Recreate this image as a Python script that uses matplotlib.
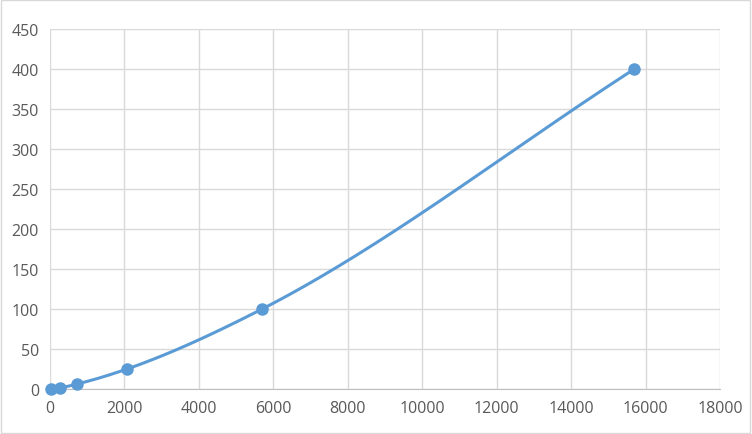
import numpy as np
import matplotlib
matplotlib.use("Agg")
import matplotlib.pyplot as plt

conc = [15700, 5700, 2070, 730, 270, 40]
signal = [400, 100, 25, 6.25, 1.56, 0.39]

xticks = list(range(0, 18001, 2000))
yticks = list(range(0, 451, 50))


def pchip(xs, ys, n=60):
    # monotone cubic so the smoothed line does not dip below the points
    h = np.diff(xs)
    d = np.diff(ys) / h
    m = np.zeros(len(xs))
    for k in range(1, len(xs) - 1):
        if d[k - 1] * d[k] > 0:
            w1 = 2 * h[k] + h[k - 1]
            w2 = h[k] + 2 * h[k - 1]
            m[k] = (w1 + w2) / (w1 / d[k - 1] + w2 / d[k])
    m[0] = d[0]
    m[-1] = d[-1]
    outx, outy = [], []
    for k in range(len(xs) - 1):
        t = np.linspace(0, 1, n)
        h00 = 2 * t ** 3 - 3 * t ** 2 + 1
        h10 = t ** 3 - 2 * t ** 2 + t
        h01 = -2 * t ** 3 + 3 * t ** 2
        h11 = t ** 3 - t ** 2
        outx.extend(xs[k] + t * h[k])
        outy.extend(h00 * ys[k] + h10 * h[k] * m[k] + h01 * ys[k + 1] + h11 * h[k] * m[k + 1])
    return outx, outy


order = np.argsort(conc)
xs = np.array(conc, float)[order]
ys = np.array(signal, float)[order]
sx, sy = pchip(xs, ys)

fig = plt.figure(figsize=(7.52, 4.35), dpi=100)
ax = fig.add_axes([50 / 752, 45 / 435, 670 / 752, 360 / 435])

ax.plot(sx, sy, color="#5B9BD5", lw=2.2, zorder=3, solid_capstyle="round", clip_on=False)
ax.plot(xs, ys, "o", color="#5B9BD5", ms=8, zorder=4, clip_on=False)

ax.set_xlim(0, 18000)
ax.set_ylim(0, 450)
ax.set_xticks(xticks)
ax.set_yticks(yticks)
ax.grid(True, color="#D9D9D9", lw=1)
ax.set_axisbelow(True)
for s in ["top", "right", "left"]:
    ax.spines[s].set_visible(False)
ax.spines["bottom"].set_color("#BFBFBF")
ax.tick_params(length=0, labelsize=11.5, colors="#595959", pad=8)
for lab in ax.get_xticklabels() + ax.get_yticklabels():
    lab.set_fontfamily("Open Sans")

fig.patches.append(plt.Rectangle((0.001, 0.002), 0.997, 0.996, transform=fig.transFigure,
                                 fill=False, edgecolor="#D9D9D9", lw=1))
fig.savefig("out.png", dpi=100)
